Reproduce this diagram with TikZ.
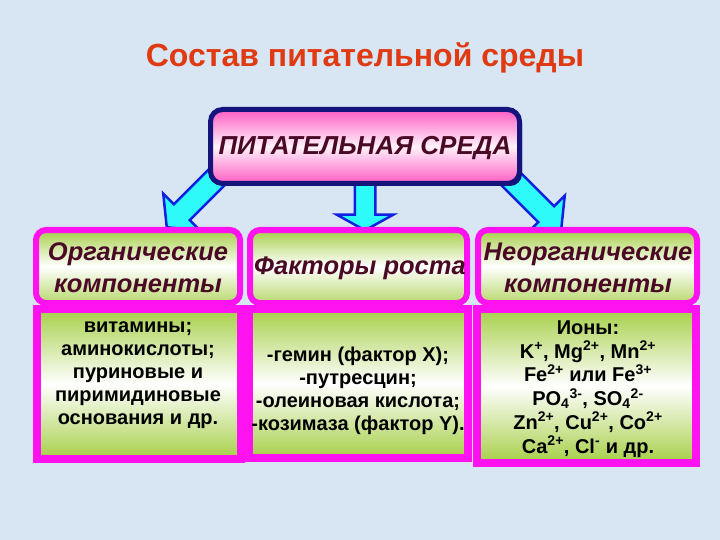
\documentclass[tikz,border=0pt]{standalone}
\usepackage{fontspec}
\setmainfont{Liberation Sans}
\usetikzlibrary{shapes.arrows,shadows}

\definecolor{bgblue}{HTML}{D8E6F4}
\definecolor{titlered}{HTML}{E03A12}
\definecolor{boxnavy}{HTML}{14147C}
\definecolor{boxpink}{HTML}{FF5CC4}
\definecolor{palepink}{HTML}{FFF2FA}
\definecolor{boxmagenta}{HTML}{FF12F0}
\definecolor{leafgreen}{HTML}{A6CF48}
\definecolor{arrcyan}{HTML}{2EFAFA}
\definecolor{arrblue}{HTML}{1020E0}
\definecolor{darkmaroon}{HTML}{4A0A25}

\tikzset{
  topbox/.style={rectangle, rounded corners=12pt, draw=boxnavy, line width=5pt,
    top color=boxpink, bottom color=boxpink, middle color=palepink, inner sep=0pt,
    drop shadow={shadow xshift=2.5pt, shadow yshift=-2.5pt, fill=boxnavy, opacity=1}},
  headbox/.style={rectangle, rounded corners=10pt, draw=boxmagenta, line width=6pt,
    top color=leafgreen, bottom color=leafgreen!80, middle color=white, inner sep=0pt},
  bodybox/.style={rectangle, draw=boxmagenta, line width=8pt,
    top color=leafgreen, bottom color=leafgreen, middle color=white, inner sep=0pt},
  blockarrow/.style={single arrow, draw=arrblue, fill=arrcyan, line width=2.5pt,
    inner xsep=0pt, inner ysep=10pt, single arrow head extend=15pt},
  headtext/.style={font=\bfseries\itshape\fontsize{25.5}{32}\selectfont, text=darkmaroon, align=center},
  bodytext/.style={font=\bfseries\fontsize{20}{23}\selectfont, align=center}
}

\begin{document}
\begin{tikzpicture}[x=1pt,y=-1pt]
  % Background and frame:
  \fill[bgblue] (0,0) rectangle (720,540);
  \useasboundingbox (0,0) rectangle (720,540);
  \node[font=\bfseries\fontsize{32}{36}\selectfont, text=titlered] (title) at (365,58){Состав питательной среды};
  % Arrows under the top box:
  \node[blockarrow, rotate=-135, minimum height=75pt, single arrow tip angle=102] (arrL) at (196.5,197.5){};
  \node[blockarrow, rotate=-90, minimum height=51pt, inner ysep=9pt, single arrow head extend=18pt, single arrow tip angle=122] (arrM) at (365,202){};
  \node[blockarrow, rotate=-45, minimum height=75pt, single arrow tip angle=102] (arrR) at (531.5,199.5){};
  % Top box:
  \node[topbox, minimum width=309pt, minimum height=74pt] (medium) at (365,146.5){};
  \node[font=\bfseries\itshape\fontsize{26}{30}\selectfont, text=darkmaroon] (mediumtxt) at (365,148){ПИТАТЕЛЬНАЯ СРЕДА};
  % Lower boxes:
  \node[bodybox, minimum width=204pt, minimum height=150pt] (orgbody) at (139,384){};
  \node[bodybox, minimum width=219pt, minimum height=149pt] (factbody) at (358.5,383.5){};
  \node[bodybox, minimum width=219pt, minimum height=154pt] (inorgbody) at (586.5,386){};
  \node[headbox, minimum width=204pt, minimum height=73pt] (orghead) at (138,266.5){};
  \node[headbox, minimum width=217pt, minimum height=73pt] (facthead) at (358.5,266.5){};
  \node[headbox, minimum width=219pt, minimum height=73pt] (inorghead) at (587.5,266.5){};
  % Texts:
  \node[headtext] (orgtxt) at (138,268){Органические\\компоненты};
  \node[headtext] (facttxt) at (360,268){Факторы роста};
  \node[headtext] (inorgtxt) at (588,268){Неорганические\\компоненты};
  \node[bodytext] (orglist) at (138,375){витамины;\\аминокислоты;\\пуриновые и\\пиримидиновые\\основания и др.};
  \node[bodytext] (factlist) at (358,391){-гемин (фактор X);\\-путресцин;\\-олеиновая кислота;\\-козимаза (фактор Y).};
  \node[bodytext, font=\bfseries\fontsize{20}{23.8}\selectfont] (inorglist) at (588,389){Ионы:\\K\textsuperscript{+}, Mg\textsuperscript{2+}, Mn\textsuperscript{2+}\\Fe\textsuperscript{2+} или Fe\textsuperscript{3+}\\PO\textsubscript{4}\textsuperscript{3-}, SO\textsubscript{4}\textsuperscript{2-}\\Zn\textsuperscript{2+}, Cu\textsuperscript{2+}, Co\textsuperscript{2+}\\Ca\textsuperscript{2+}, Cl\textsuperscript{-} и др.};
\end{tikzpicture}
\end{document}
